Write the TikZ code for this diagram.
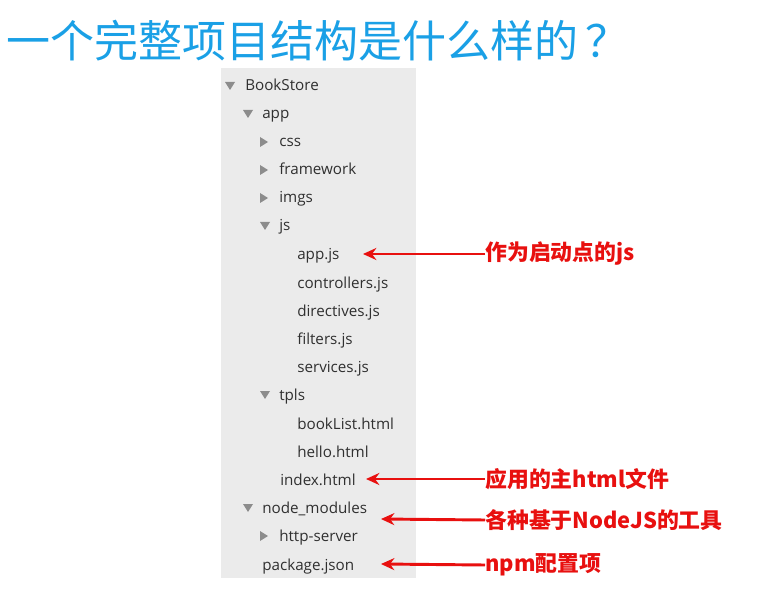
\documentclass[tikz,border=0pt]{standalone}
\usepackage{fontspec}
\setmainfont{Open Sans}
\newfontfamily\cjk{Noto Sans CJK SC}
\usetikzlibrary{positioning}
\usetikzlibrary{arrows.meta}
\definecolor{titleblue}{HTML}{1AA0E6}
\definecolor{panelgray}{HTML}{EBEBEB}
\definecolor{tri}{HTML}{8C8C8C}
\definecolor{item}{HTML}{303030}
\definecolor{note}{HTML}{E8100F}

\begin{document}
\begin{tikzpicture}[x=0.75pt, y=-0.75pt]
    \tikzstyle{file}=[anchor=base west, inner sep=0pt, text=item,
                      font=\fontsize{11.4}{13}\selectfont]
    \tikzstyle{label}=[anchor=west, inner sep=0pt, text=note,
                       font=\cjk\bfseries\fontsize{16.4}{19}\selectfont]
    \tikzstyle{pointer}=[draw=note, line width=2.2pt,
                         -{Stealth[length=10pt, width=9pt]}]
    \useasboundingbox (0,0) rectangle (784,591);
    \fill[white] (0,0) rectangle (784,591);
    % title
    \node[anchor=west, inner sep=0pt, text=titleblue,
          font=\cjk\fontsize{33}{38}\selectfont] (title) at (6,41)
          {一个完整项目结构是什么样的\,？};
    % panel of the tree
    \fill[panelgray] (221,68) rectangle (416,578);
    % entries of the tree
    \foreach \y/\x/\name/\txt in {85/245/root/BookStore, 113/262/app/app,
        141/279/css/css, 169/279/framework/framework, 197/279/imgs/imgs,
        225/279/js/js, 254/297/appjs/app.js, 282/297/ctrl/controllers.js,
        310/297/dir/directives.js, 338/297/filt/filters.js,
        366/297/serv/services.js, 394/279/tpls/tpls,
        423/297/booklist/bookList.html, 451/297/hello/hello.html,
        479/280/index/index.html, 507/262/modules/node\_modules,
        535/279/http/http-server, 564/262/pkg/package.json}
        \node[file] (\name) at (\x,\y+6) {\txt};
    % open folders
    \foreach \x/\y in {230/86, 248/114, 265/226, 265/395, 248/508}
        \fill[tri] (\x-5,\y-4) -- (\x+5,\y-4) -- (\x,\y+4) -- cycle;
    % closed folders
    \foreach \x/\y in {264/142, 264/170, 264/198, 264/536}
        \fill[tri] (\x-4,\y-5) -- (\x+4,\y) -- (\x-4,\y+5) -- cycle;
    % notes
    \node[label] (noteapp) at (485,254) {作为启动点的js};
    \node[label] (noteindex) at (485,479) {应用的主html文件};
    \node[label] (notemod) at (485,520) {各种基于NodeJS的工具};
    \node[label] (notepkg) at (485,565) {npm配置项};
    \coordinate (tipapp) at (363,254);
    \coordinate (tipindex) at (366,479);
    \coordinate (tipmod) at (381,519);
    \coordinate (tippkg) at (381,564);
    \foreach \a/\b in {noteapp/tipapp, noteindex/tipindex,
                       notemod/tipmod, notepkg/tippkg}
        \path[pointer] (\a.west) -- (\b);
\end{tikzpicture}
\end{document}
